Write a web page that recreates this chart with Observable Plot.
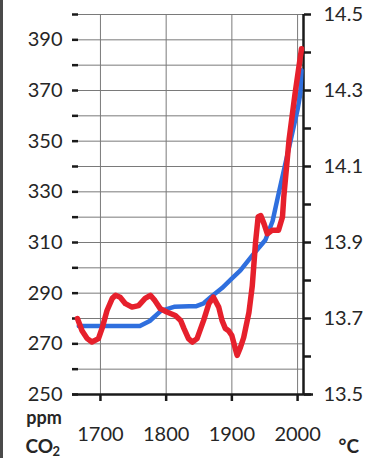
<!DOCTYPE html>
<html>
<head>
<meta charset="utf-8">
<script src="https://cdn.jsdelivr.net/npm/d3@7"></script>
<script src="https://cdn.jsdelivr.net/npm/@observablehq/plot@0.6"></script>
<style>
  html, body { margin: 0; padding: 0; background: #fff; }
  #chart { position: relative; width: 376px; height: 458px; }
  #chart svg { display: block; }
  #chart::after {
    content: ""; position: absolute; left: 0; top: 0; bottom: 0; width: 3px; background: #4a4a4a;
  }
</style>
</head>
<body>
<div id="chart"></div>
<script>
// Atmospheric CO2 (ppm, left axis) and global temperature (°C, right axis), 1660–2006
const co2Years = [1667, 1760, 1775, 1792, 1812, 1835, 1845, 1857, 1869, 1885, 1899, 1913, 1930, 1951, 1962, 1970, 1980, 1990, 2000, 2004, 2006];
const co2Ppm   = [277, 277, 279, 283, 284.6, 284.8, 284.8, 286, 288.7, 292, 295.5, 299, 304.5, 311, 318.5, 328, 339.5, 351, 362.5, 368.5, 378];

const tempYears = [1665, 1672, 1680, 1687, 1697, 1703, 1710, 1718, 1723, 1730, 1738, 1748, 1758, 1768, 1776, 1783, 1791, 1801, 1814, 1822,
                   1827, 1834, 1840, 1847, 1857, 1865, 1872, 1880, 1885, 1890, 1895, 1900, 1906, 1908, 1913, 1918, 1926, 1931, 1936,
                   1940, 1944, 1949, 1954, 1961, 1971, 1977, 1979, 1987, 1996, 2006];
const tempC    = [13.70, 13.668, 13.647, 13.638, 13.647, 13.677, 13.721, 13.753, 13.761, 13.756, 13.739, 13.730, 13.734, 13.753, 13.761, 13.747, 13.726, 13.717, 13.708, 13.695,
                  13.674, 13.647, 13.638, 13.647, 13.695, 13.739, 13.756, 13.730, 13.695, 13.674, 13.668, 13.655, 13.616, 13.603, 13.624, 13.650, 13.716, 13.785, 13.900,
                  13.968, 13.971, 13.949, 13.923, 13.932, 13.932, 13.967, 14.02, 14.17, 14.29, 14.41];

// Axis ticks
const yearTicks = [1700, 1800, 1900, 2000];
const ppmTicks = d3.range(250, 401, 10);
const ppmLabels = d3.range(250, 391, 20);
const tempTicks = d3.range(135, 146).map(d => d / 10);
const tempLabels = [13.5, 13.7, 13.9, 14.1, 14.3, 14.5];

const xDomain = [1659, 2009];
const yDomain = [250, 400];

// The temperature axis shares the frame: 13.5 °C ↔ 250 ppm, 14.5 °C ↔ 400 ppm
const toPpm = t => yDomain[0] + (t - 13.5) * (yDomain[1] - yDomain[0]);

const co2 = co2Years.map((year, i) => ({year, ppm: co2Ppm[i]}));
const temp = tempYears.map((year, i) => ({year, t: tempC[i]}));

const ink = "#1a1a1a";
const labelInk = "#262626";
const grid = "#7a7a7a";

const chart = Plot.plot({
  width: 376,
  height: 458,
  marginLeft: 73,
  marginRight: 73,
  marginTop: 14,
  marginBottom: 64,
  style: {fontFamily: "Lato, 'Open Sans', sans-serif", background: "#fff", color: ink},
  x: {domain: xDomain, label: null},
  y: {domain: yDomain, label: null},
  marks: [
    // grid
    Plot.ruleY(ppmTicks, {stroke: grid, strokeWidth: 1}),
    Plot.ruleX(yearTicks, {stroke: grid, strokeWidth: 1}),

    // left (CO2) axis: short dashes and labels
    Plot.axisY(ppmTicks, {anchor: "left", tickSize: 6, dx: 5, fill: "none", stroke: ink, strokeWidth: 2.5}),
    Plot.axisY(ppmLabels, {anchor: "left", tickSize: 0, tickPadding: 11, fontSize: 20, fill: labelInk}),

    // right (temperature) axis
    Plot.ruleX([xDomain[1]], {stroke: ink, strokeWidth: 2.5}),
    Plot.axisY(tempTicks, {anchor: "right", y: toPpm, tickSize: 7, fill: "none", stroke: ink, strokeWidth: 2.5}),
    Plot.axisY(tempLabels, {anchor: "right", y: toPpm, text: d => d.toFixed(1), tickSize: 0, tickPadding: 20, fontSize: 20, fill: labelInk}),

    // bottom (year) axis
    Plot.ruleY([yDomain[0]], {stroke: ink, strokeWidth: 2.5, insetLeft: -1, insetRight: -10}),
    Plot.axisX(yearTicks, {anchor: "bottom", tickSize: 7, tickPadding: 25, tickFormat: d => String(d), stroke: ink, strokeWidth: 2.5, fontSize: 20, fill: labelInk}),

    // series
    Plot.line(co2, {x: "year", y: "ppm", stroke: "#2f6fde", strokeWidth: 4.5, strokeLinejoin: "round", strokeLinecap: "round"}),
    Plot.line(temp, {x: "year", y: d => toPpm(d.t), stroke: "#e6202c", strokeWidth: 5.5, strokeLinejoin: "round", strokeLinecap: "round"}),

    // unit labels
    Plot.text(["ppm"], {frameAnchor: "bottom-left", dx: -29.5, dy: 29, lineAnchor: "bottom", textAnchor: "middle", fontSize: 18, fontWeight: "bold", fill: labelInk}),
    Plot.text(["CO"], {frameAnchor: "bottom-left", dx: -48, dy: 58, lineAnchor: "bottom", textAnchor: "start", fontSize: 19, fontWeight: "bold", fill: labelInk}),
    Plot.text(["2"], {frameAnchor: "bottom-left", dx: -21, dy: 61, lineAnchor: "bottom", textAnchor: "start", fontSize: 13, fontWeight: "bold", fill: labelInk}),
    Plot.text(["°C"], {frameAnchor: "bottom-right", dx: 35, dy: 58, lineAnchor: "bottom", textAnchor: "start", fontSize: 19, fontWeight: "bold", fill: labelInk})
  ]
});

document.getElementById("chart").append(chart);
</script>
</body>
</html>
